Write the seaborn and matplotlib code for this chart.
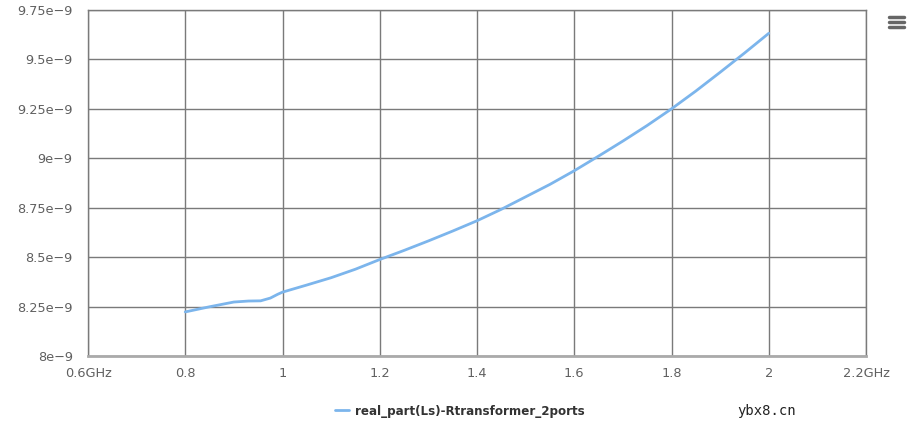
import matplotlib
matplotlib.use("Agg")
import matplotlib.pyplot as plt
from matplotlib.lines import Line2D
from matplotlib.ticker import FixedLocator, FixedFormatter
import seaborn as sns
import pandas as pd

# frequency (GHz) and real part of Ls (H)
freq_ghz = [0.80, 0.85, 0.90, 0.93, 0.955, 0.975, 0.99, 1.00, 1.05, 1.10,
            1.15, 1.20, 1.25, 1.30, 1.35, 1.40, 1.45, 1.50, 1.55, 1.60,
            1.65, 1.70, 1.75, 1.80, 1.85, 1.90, 1.95, 2.00]
ls_real = [8.223e-9, 8.249e-9, 8.273e-9, 8.278e-9, 8.279e-9, 8.293e-9, 8.312e-9, 8.323e-9,
           8.359e-9, 8.396e-9, 8.439e-9, 8.488e-9, 8.534e-9, 8.582e-9, 8.632e-9, 8.684e-9,
           8.742e-9, 8.805e-9, 8.868e-9, 8.937e-9, 9.011e-9, 9.087e-9, 9.166e-9, 9.250e-9,
           9.340e-9, 9.435e-9, 9.532e-9, 9.632e-9]

series_name = "real_part(Ls)-Rtransformer_2ports"
x_ticks = [0.6, 0.8, 1.0, 1.2, 1.4, 1.6, 1.8, 2.0, 2.2]
x_labels = ["0.6GHz", "0.8", "1", "1.2", "1.4", "1.6", "1.8", "2", "2.2GHz"]
y_ticks = [8.0e-9, 8.25e-9, 8.5e-9, 8.75e-9, 9.0e-9, 9.25e-9, 9.5e-9, 9.75e-9]
y_labels = ["8e\u22129", "8.25e\u22129", "8.5e\u22129", "8.75e\u22129",
            "9e\u22129", "9.25e\u22129", "9.5e\u22129", "9.75e\u22129"]

df = pd.DataFrame({"freq": freq_ghz, "ls": ls_real})

sns.set_theme(style="white")
plt.rcParams["font.family"] = ["DejaVu Sans"]

fig = plt.figure(figsize=(9.14, 4.43), dpi=100)
ax = fig.add_axes([88 / 914, 1 - 356 / 443, (866 - 88) / 914, (356 - 10) / 443])

sns.lineplot(data=df, x="freq", y="ls", ax=ax, color="#7cb5ec", linewidth=2,
             label=series_name, legend=False)

ax.set_xlim(0.6, 2.2)
ax.set_ylim(8.0e-9, 9.75e-9)
ax.xaxis.set_major_locator(FixedLocator(x_ticks))
ax.xaxis.set_major_formatter(FixedFormatter(x_labels))
ax.yaxis.set_major_locator(FixedLocator(y_ticks))
ax.yaxis.set_major_formatter(FixedFormatter(y_labels))
ax.set_xlabel("")
ax.set_ylabel("")
ax.grid(True, color="#7a7a7a", linewidth=1)
ax.set_axisbelow(True)
for side in ["left", "right", "top"]:
    ax.spines[side].set_color("#7a7a7a")
    ax.spines[side].set_linewidth(1)
ax.spines["bottom"].set_color("#aaaaaa")
ax.spines["bottom"].set_linewidth(2)
ax.tick_params(axis="both", length=0, labelsize=9.3, labelcolor="#606060")
ax.tick_params(axis="x", pad=8)
ax.tick_params(axis="y", pad=11)

# legend at the bottom centre
handle = Line2D([], [], color="#7cb5ec", linewidth=2)
fig.legend([handle], [series_name], loc="center", bbox_to_anchor=(0.503, 1 - 411 / 443),
           frameon=False, handlelength=1.2, handletextpad=0.5,
           prop={"size": 8.6, "weight": "bold"}, labelcolor="#333333")

# watermark
fig.text(767 / 914, 1 - 411 / 443, "ybx8.cn", ha="center", va="center",
         fontsize=10, family="DejaVu Sans Mono", color="#222222")

# menu icon
for yy in [17, 22, 27]:
    fig.add_artist(Line2D([889 / 914, 904 / 914], [1 - yy / 443] * 2,
                          color="#666666", linewidth=2.5))

fig.savefig("out.png", dpi=100)
